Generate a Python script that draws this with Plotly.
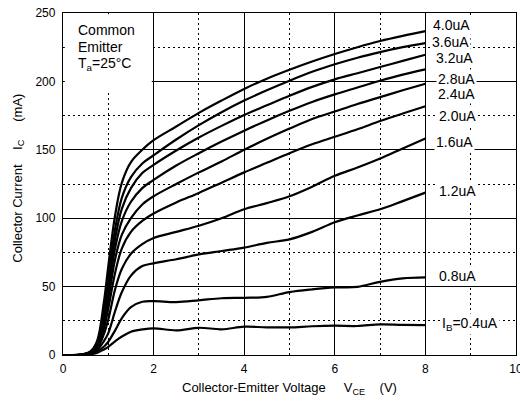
import plotly.graph_objects as go

# Collector-emitter voltage (V)
vce = [0, 0.4, 0.6, 0.75, 0.9, 1.0, 1.15, 1.3, 1.5, 1.75, 2, 2.5, 3, 3.5, 4, 4.5, 5, 5.5, 6, 6.5, 7, 7.5, 8]

# Collector current (mA) for each base current
ic_40 = [0, 0.3, 2.5, 10, 38, 65, 102, 126, 141, 150, 157, 167, 177, 186, 194.5, 202, 208.5, 214.5, 220, 225, 229.5, 233.3, 236.7]
ic_36 = [0, 0.3, 2.2, 9, 33, 58, 92, 115, 130, 140, 146, 157.5, 168, 177.5, 186, 193.5, 200.5, 207, 212.5, 217.3, 221.4, 225, 228]
ic_32 = [0, 0.3, 2, 8, 29, 52, 85, 107, 122, 133, 139, 149.5, 159, 167.5, 175.5, 182.5, 189.5, 196, 201.5, 206, 210.5, 215, 219.5]
ic_28 = [0, 0.3, 1.8, 7, 26, 46, 78, 98, 112, 122, 128, 138.5, 147.5, 156, 164, 171.5, 178.5, 185, 190.5, 195.5, 200.5, 205, 208.8]
ic_24 = [0, 0.2, 1.6, 6, 22, 40, 70, 88, 100, 110, 116, 125, 133.5, 141.5, 150, 158, 165.5, 172.5, 178, 183.5, 188.5, 193.5, 198.3]
ic_20 = [0, 0.2, 1.4, 5, 19, 34, 60, 78, 90, 98, 103.4, 111.5, 118.5, 126, 133.5, 140.5, 147.5, 154, 159.5, 165, 171, 176.5, 181.8]
ic_16 = [0, 0.2, 1.2, 4.5, 15, 26, 48, 63, 74, 81, 85.5, 90, 94.5, 100, 106.5, 111, 116, 123, 131, 137, 143.6, 151, 158.2]
ic_12 = [0, 0.1, 1, 3.5, 10, 16, 32, 46, 58, 65, 67, 70, 73.5, 76, 78.5, 82, 84.5, 90, 97, 102, 106.5, 112.5, 118.7]
ic_08 = [0, 0.1, 0.7, 2.5, 6, 9.7, 18, 27, 35, 38.9, 39.4, 38.7, 40, 41.5, 41.8, 42.5, 46, 48, 49.4, 49.8, 53.5, 56, 56.7]
ic_04 = [0, 0.1, 0.5, 1.5, 4, 6, 10, 13.5, 17, 18.7, 19.5, 18, 19.9, 18.8, 20.7, 20.2, 20.2, 21, 21.4, 21.2, 22.4, 22, 21.9]

series = [ic_40, ic_36, ic_32, ic_28, ic_24, ic_20, ic_16, ic_12, ic_08, ic_04]

# Curve labels and their vertical positions (mA)
labels = ["4.0uA", "3.6uA", "3.2uA", "2.8uA", "2.4uA", "2.0uA", "1.6uA", "1.2uA", "0.8uA", "I<sub>B</sub>=0.4uA"]
label_y = [241, 228.7, 217, 201.5, 190.5, 174.7, 155.7, 120, 57.7, 22.6]
label_x = [8.12, 8.1, 8.2, 8.23, 8.23, 8.25, 8.2, 8.25, 8.25, 8.32]

x_ticks = [0, 2, 4, 6, 8, 10]
y_ticks = [0, 50, 100, 150, 200, 250]

FONT = "Arial, Liberation Sans, sans-serif"

fig = go.Figure()
for ys in series:
    fig.add_trace(go.Scatter(x=vce, y=ys, mode="lines",
                             line=dict(color="black", width=2.2, shape="spline", smoothing=1.0),
                             showlegend=False, hoverinfo="skip"))

for t, xx, yy in zip(labels, label_x, label_y):
    fig.add_annotation(x=xx, y=yy, xref="x", yref="y", text=t, showarrow=False,
                       xanchor="left", yanchor="middle", bgcolor="white", borderpad=1,
                       font=dict(family=FONT, size=14, color="black"))

# white box behind the condition text
fig.add_shape(type="rect", xref="x", yref="y", x0=0.04, x1=1.96, y0=192, y1=249,
              fillcolor="white", line=dict(width=0), layer="between")

for t, yy in zip(["Common", "Emitter", "T<sub>a</sub>=25°C"], [237.5, 225, 212.5]):
    fig.add_annotation(x=0.29, y=yy, xref="x", yref="y", text=t, showarrow=False,
                       xanchor="left", yanchor="middle",
                       font=dict(family=FONT, size=14, color="black"))

nb = "\u00a0"
fig.add_annotation(xref="paper", yref="paper", x=0.5, y=-0.0965, xanchor="center", yanchor="middle",
                   text="Collector-Emitter Voltage" + nb * 5 + "V<sub>CE</sub>" + nb * 4 + "(V)",
                   showarrow=False, font=dict(family=FONT, size=13, color="black"))
fig.add_annotation(xref="paper", yref="paper", x=-0.099, y=0.516, xanchor="center", yanchor="middle",
                   textangle=-90,
                   text="Collector Current" + nb * 4 + "I<sub>C</sub>" + nb * 5 + "(mA)",
                   showarrow=False, font=dict(family=FONT, size=13, color="black"))

grid_dash = "1.5px,3.5px"
fig.update_xaxes(range=[0, 10], tickvals=x_ticks, ticks="", showline=True, mirror=True,
                 linecolor="black", linewidth=1.3, showgrid=True, gridcolor="black", gridwidth=1,
                 zeroline=False, tickfont=dict(family=FONT, size=12, color="black"),
                 ticklabelstandoff=2, ticklabeloverflow="allow", automargin=False,
                 minor=dict(dtick=1, tick0=0, showgrid=True, gridcolor="black", gridwidth=1,
                            griddash=grid_dash, ticks=""))
fig.update_yaxes(range=[0, 250], tickvals=y_ticks, ticks="", showline=True, mirror=True,
                 linecolor="black", linewidth=1.3, showgrid=True, gridcolor="black", gridwidth=1,
                 zeroline=False, tickfont=dict(family=FONT, size=12, color="black"),
                 ticklabelstandoff=4, ticklabeloverflow="allow", automargin=False,
                 minor=dict(dtick=25, tick0=0, showgrid=True, gridcolor="black", gridwidth=1,
                            griddash=grid_dash, ticks=""))

fig.update_layout(width=520, height=406, margin=dict(l=63, r=4, t=13, b=51),
                  plot_bgcolor="white", paper_bgcolor="white",
                  font=dict(family=FONT, color="black"))

fig.write_html("out.html")
